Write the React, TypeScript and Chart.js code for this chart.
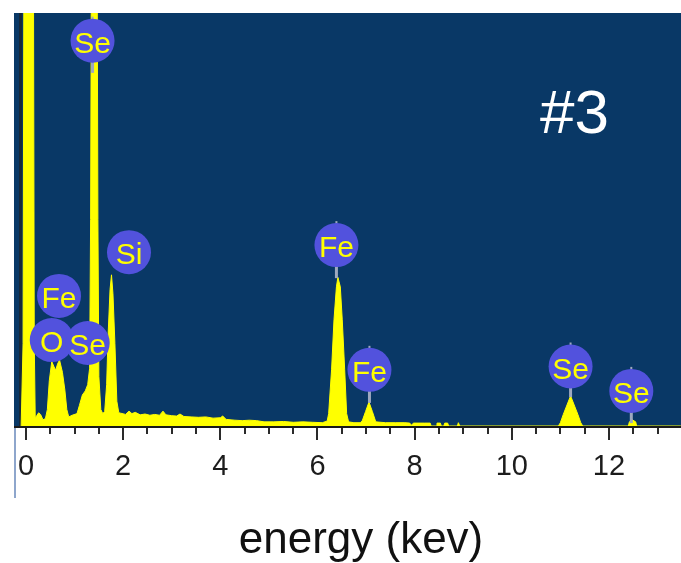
import React, { useEffect, useRef } from "react";
import { Chart, registerables } from "chart.js";
Chart.register(...registerables);

// Spectrum (energy in keV, counts in % of the plot height)
const energies = [
  -0.1, -0.06, -0.04, 0.15, 0.17, 0.19, 0.22, 0.26, 0.3, 0.35, 0.4, 0.44, 0.48, 0.53, 0.57, 0.61, 0.65, 0.69,
  0.75, 0.8, 0.84, 0.88, 0.95, 1.05, 1.1, 1.16, 1.22, 1.27, 1.31, 1.33, 1.35, 1.46, 1.48, 1.5, 1.54, 1.58,
  1.62, 1.66, 1.69, 1.73, 1.76, 1.79, 1.83, 1.87, 1.91, 1.95, 2.05, 2.12, 2.18, 2.25, 2.35, 2.45, 2.55, 2.65,
  2.75, 2.82, 2.88, 3.0, 3.1, 3.17, 3.25, 3.4, 3.55, 3.7, 3.85, 4.0, 4.05, 4.12, 4.3, 4.45, 4.6, 4.75, 4.9,
  5.1, 5.3, 5.5, 5.7, 5.9, 6.1, 6.2, 6.23, 6.29, 6.34, 6.39, 6.42, 6.47, 6.51, 6.56, 6.6, 6.64, 6.75, 6.88,
  6.92, 6.99, 7.06, 7.13, 7.2, 7.4, 7.6, 7.8, 7.9, 7.93, 7.98, 8.2, 8.32, 8.34, 8.44, 8.46, 8.53, 8.55, 8.6,
  8.62, 8.68, 8.7, 8.88, 8.9, 8.93, 10.96, 11.0, 11.06, 11.21, 11.36, 11.42, 11.46, 12.4, 12.42, 12.48, 12.55,
  12.57, 13.48,
];
const counts = [
  0, 20, 130, 130, 20, 2, 2.5, 3.2, 2.8, 1.5, 1.8, 4, 11, 15.6, 14.5, 13.5, 15, 16,
  13, 8.7, 4, 2.2, 2.6, 3.0, 5.0, 7.5, 8.5, 10, 14, 50, 130, 130, 50, 12, 4, 3,
  3.5, 10, 22, 33, 36.6, 32, 20, 6, 3.2, 3.1, 2.8, 3.6, 3.0, 3.3, 2.7, 2.9, 2.6, 2.8,
  2.6, 3.6, 2.7, 2.5, 2.4, 2.9, 2.3, 2.2, 2.1, 2.2, 1.9, 2.0, 2.4, 1.6, 1.4, 1.3, 1.4, 1.3, 1.0,
  1.0, 1.1, 0.9, 1.0, 0.9, 0.8, 1.2, 3, 13.6, 25.7, 33.7, 36, 33.7, 25.7, 13.6, 3, 1.0, 0.8, 0.8,
  1.2, 3.5, 5.8, 3.5, 1.0, 0.8, 0.8, 0.8, 0.7, 0.2, 0.7, 0.7, 0.7, 0, 0, 0.7, 0.7, 0, 0,
  0.7, 0.7, 0, 0, 0.8, 0, 0, 0.8, 2.8, 7.3, 2.8, 0.8, 0, 0, 1.0, 1.5, 1.0,
  0, 0,
];

const tickLabelValues = [0, 2, 4, 6, 8, 10, 12];

// Element labels: text, centre energy, centre height, stem end height (null = no stem)
const peakLabels = ["Se", "Fe", "O", "Se", "Si", "Fe", "Fe", "Se", "Se"];
const peakLabelEnergy = [1.37, 0.68, 0.53, 1.27, 2.12, 6.39, 7.07, 11.21, 12.46];
const peakLabelHeight = [93.3, 31.5, 20.8, 20.1, 42.1, 43.8, 13.6, 14.4, 8.5];
const peakStemTo: (number | null)[] = [85.5, null, null, null, null, 35.8, 5.6, 7.0, 0.7];

const sampleTag = "#3";
const axisTitle = "energy (kev)";

const FONT = '"Liberation Sans", Arial, Helvetica, sans-serif';
const NAVY = "#093866";
const YELLOW = "#ffff00";
const BADGE = "#5252dd";
const STEM = "#9ea8bf";

const decor = {
  id: "decor",
  beforeDraw(chart: any) {
    const { ctx, chartArea: a } = chart;
    ctx.save();
    ctx.fillStyle = "#ffffff";
    ctx.fillRect(0, 0, chart.width, chart.height);
    ctx.fillStyle = NAVY;
    ctx.fillRect(a.left, a.top, a.right - a.left, a.bottom - a.top);
    ctx.fillStyle = "#16283a";
    ctx.fillRect(a.left + 5, a.top, 3, a.bottom - a.top);
    ctx.restore();
  },
  afterDatasetsDraw(chart: any) {
    const { ctx, chartArea: a } = chart;
    const xs = chart.scales.x;
    const ys = chart.scales.y;
    ctx.save();
    // axis line
    ctx.fillStyle = "#1a1a1a";
    ctx.fillRect(a.left, a.bottom, a.right - a.left, 2);
    // tick marks
    ctx.fillStyle = "#2a2a2a";
    xs.ticks.forEach((t: any) => {
      const px = Math.round(xs.getPixelForValue(t.value));
      const major = tickLabelValues.includes(t.value);
      ctx.fillRect(px - 1, a.bottom + 2, 2, major ? 12 : 6);
    });
    // left edge line below the plot
    ctx.fillStyle = "#8ea6cc";
    ctx.fillRect(a.left, a.bottom + 2, 2, 70);

    // element badges
    const r = 22;
    peakLabels.forEach((txt, i) => {
      const cx = xs.getPixelForValue(peakLabelEnergy[i]);
      const cy = ys.getPixelForValue(peakLabelHeight[i]);
      const stem = peakStemTo[i];
      if (stem !== null) {
        const sy = ys.getPixelForValue(stem);
        ctx.fillStyle = STEM;
        ctx.fillRect(cx - 1.5, cy + r - 2, 3, sy - (cy + r - 2));
        ctx.fillRect(cx - 1, cy - r - 2, 2, 4);
      }
      ctx.beginPath();
      ctx.arc(cx, cy, r, 0, Math.PI * 2);
      ctx.fillStyle = BADGE;
      ctx.fill();
      ctx.fillStyle = YELLOW;
      ctx.font = `30px ${FONT}`;
      ctx.textAlign = "center";
      ctx.textBaseline = "alphabetic";
      ctx.fillText(txt, cx, cy + 12);
    });
    ctx.restore();
  },
  afterDraw(chart: any) {
    const { ctx } = chart;
    ctx.save();
    ctx.fillStyle = "#ffffff";
    ctx.font = `62px ${FONT}`;
    ctx.textAlign = "left";
    ctx.textBaseline = "alphabetic";
    ctx.fillText(sampleTag, 540, 133);
    ctx.fillStyle = "#111111";
    ctx.font = `44px ${FONT}`;
    ctx.textAlign = "center";
    ctx.fillText(axisTitle, 361, 553);
    ctx.restore();
  },
};

export default function App() {
  const ref = useRef<HTMLCanvasElement | null>(null);
  useEffect(() => {
    if (!ref.current) return;
    const chart = new Chart(ref.current, {
      type: "line",
      data: {
        datasets: [
          {
            data: energies.map((e, i) => ({ x: e, y: counts[i] })),
            fill: "origin",
            backgroundColor: YELLOW,
            borderColor: YELLOW,
            borderWidth: 1,
            pointRadius: 0,
            tension: 0,
            clip: 0,
          } as any,
        ],
      },
      options: {
        animation: false,
        responsive: false,
        devicePixelRatio: 1,
        layout: { padding: { left: 14, top: 13, right: 0, bottom: 0 } },
        plugins: { legend: { display: false }, tooltip: { enabled: false } },
        scales: {
          x: {
            type: "linear",
            min: -0.247,
            max: 13.483,
            afterFit: (scale: any) => {
              scale.height = 137;
              scale.paddingLeft = 0;
              scale.paddingRight = 0;
            },
            afterBuildTicks: (scale: any) => {
              scale.ticks = scale.ticks.filter(
                (t: any) =>
                  t.value >= 0 && t.value <= 13 && Math.abs(t.value * 2 - Math.round(t.value * 2)) < 1e-6
              );
            },
            grid: { display: false, drawTicks: false },
            border: { display: false },
            ticks: {
              stepSize: 0.5,
              includeBounds: false,
              autoSkip: false,
              maxRotation: 0,
              padding: 24,
              color: "#1c1c1c",
              font: { size: 29, family: FONT },
              callback: (v: any) => (tickLabelValues.includes(Number(v)) ? String(v) : ""),
            },
          },
          y: { display: false, min: 0, max: 100 },
        },
      },
      plugins: [decor],
    });
    return () => chart.destroy();
  }, []);
  return (
    <div style={{ position: "fixed", left: 0, top: 0, width: 681, height: 563 }}>
      <canvas ref={ref} width={681} height={563} style={{ width: 681, height: 563, display: "block" }} />
    </div>
  );
}
